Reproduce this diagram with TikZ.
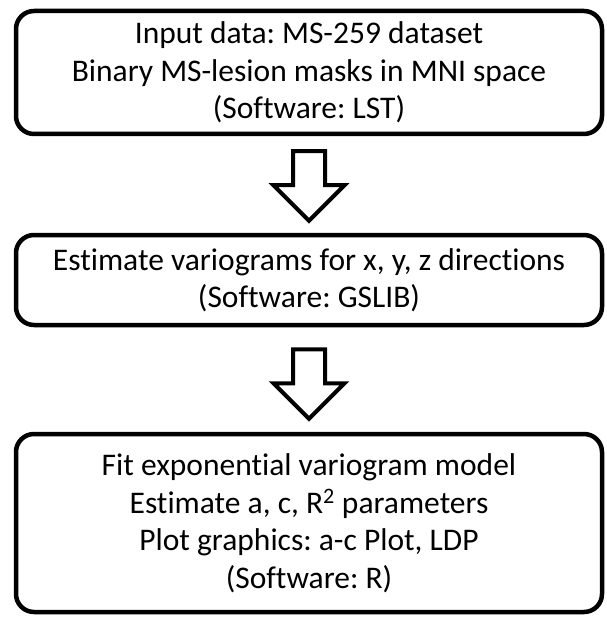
\documentclass[tikz,border=0pt]{standalone}
\usepackage{fontspec}
\setmainfont{Carlito}[Ligatures=NoCommon]
\usetikzlibrary{positioning}
\frenchspacing

\begin{document}
\begin{tikzpicture}[x=1pt,y=1pt,
	stepbox/.style={draw, line width=4.5pt, rounded corners=18pt, minimum width=586pt,
		align=center, inner sep=0pt, font=\fontsize{31.5}{37.5}\selectfont},
	hollow/.style={draw, line width=4pt, fill=white, line join=miter}]
		{
			\def\boxx{309}
			\useasboundingbox (0,0) rectangle (606,-620);

			\node[stepbox, minimum height=123pt] (input) at (\boxx,-72.5)
				{Input data: MS-259 dataset\\Binary MS-lesion masks in MNI space\\(Software: LST)};
			\node[stepbox, minimum height=90pt] (vario) at (\boxx,-280)
				{Estimate variograms for x, y, z directions\\(Software: GSLIB)};
			\node[stepbox, minimum height=178pt] (fit) at (\boxx,-523)
				{Fit exponential variogram model\\Estimate a, c, R\textsuperscript{2} parameters\\Plot graphics: a-c Plot, LDP\\(Software: R)};

			% hollow block arrows between the boxes
			\coordinate[below=15pt of input] (a1);
			\coordinate[below=22pt of vario] (a2);
			\foreach \a in {a1,a2}
			{
				\draw[hollow] (\a) ++(-16,0) -- ++(0,-34) -- ++(-19.5,0) -- ++(35.5,-35.5)
					-- ++(35.5,35.5) -- ++(-19.5,0) -- ++(0,34) -- cycle;
			}
		}
\end{tikzpicture}
\end{document}
